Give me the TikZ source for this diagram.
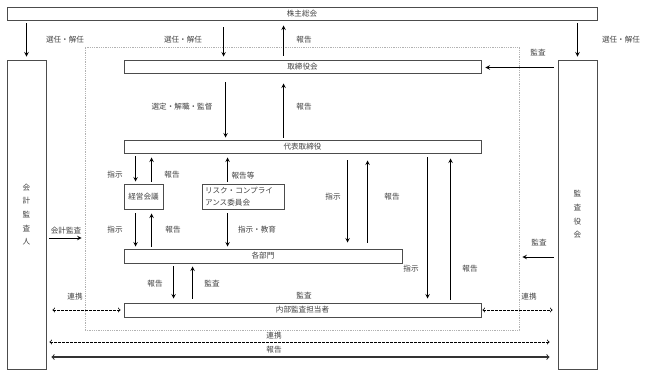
\documentclass[tikz,border=0pt]{standalone}
\usepackage{fontspec}
\setmainfont{Noto Sans CJK JP}
\usetikzlibrary{calc}

\begin{document}
\begin{tikzpicture}[>=stealth, x=1pt, y=-1pt]

  % Styles for boxes, labels and connectors
  \tikzset{
    box/.style={draw=black!70, line width=0.9pt, inner sep=0pt,
      font=\fontsize{7.6}{9}\selectfont, text=black!75},
    lbl/.style={inner sep=0pt, font=\fontsize{7.6}{9}\selectfont, text=black!75},
    arr/.style={->, line width=1pt},
    link/.style={<->, >=to, line width=0.8pt, dash pattern=on 2.5pt off 1.5pt},
    both/.style={<->, >=to, line width=1.1pt, black!80}
  }

  \useasboundingbox (0,0) rectangle (648,376);

  % 1. Company frame (dotted)
  \node[draw=gray!60, line width=0.8pt, dash pattern=on 1pt off 0.8pt,
    minimum width=434pt, minimum height=283pt, inner sep=0pt] (frame) at (302,188.5) {};

  % 2. Boxes
  \node[box, minimum width=590pt, minimum height=13pt] (kabu) at (302,13.5) {株主総会};
  \node[box, minimum width=39pt, minimum height=309pt, align=center,
    font=\fontsize{7.6}{13.7}\selectfont] (kaikei) at (26.5,214.5) {会\\計\\監\\査\\人};
  \node[box, minimum width=39pt, minimum height=309pt, align=center,
    font=\fontsize{7.6}{13.7}\selectfont] (kansa) at (577.5,214.5) {監\\査\\役\\会};
  \node[box, minimum width=357pt, minimum height=13pt] (torishimari) at (302.5,66.5) {取締役会};
  \node[box, minimum width=357pt, minimum height=13pt] (daihyo) at (302.5,146.5) {代表取締役};
  \node[box, minimum width=39pt, minimum height=25pt] (keiei) at (143.5,196.5) {経営会議};
  \node[box, minimum height=25pt, text width=76pt, inner xsep=3pt, align=left,
    font=\fontsize{7.6}{12}\selectfont] (risk) at (243,196.5) {リスク・コンプライ\\アンス委員会};
  \node[box, minimum width=278pt, minimum height=14pt] (bumon) at (263,256) {各部門};
  \node[box, minimum width=357pt, minimum height=14pt] (naibu) at (302.5,310) {内部監査担当者};

  % --- ARROWS ---
  % Shareholders meeting
  \draw[arr, shorten <=3pt, shorten >=3pt] (kaikei.north |- kabu.south) -- (kaikei.north);
  \draw[arr, shorten <=3pt, shorten >=3pt] (kansa.north |- kabu.south) -- (kansa.north);
  \draw[arr, shorten <=7pt, shorten >=3pt]
    ($(torishimari.north west |- kabu.south)+(100,0)$) -- ($(torishimari.north west)+(100,0)$);
  \draw[arr, shorten <=4pt, shorten >=5pt]
    ($(torishimari.north west)+(160,0)$) -- ($(torishimari.north west |- kabu.south)+(160,0)$);
  \draw[arr, shorten <=4pt, shorten >=4pt]
    ($(kansa.west |- torishimari.east)+(0,1)$) -- ($(torishimari.east)+(0,1)$);

  % Board and representative director
  \draw[arr, shorten <=9pt, shorten >=2pt]
    ($(torishimari.south west)+(102,0)$) -- ($(daihyo.north west)+(102,0)$);
  \draw[arr, shorten <=2pt, shorten >=10pt]
    ($(daihyo.north west)+(160,0)$) -- ($(torishimari.south west)+(160,0)$);

  % Management meeting and committee
  \draw[arr, shorten <=3pt, shorten >=2pt]
    ($(daihyo.south west)+(12,0)$) -- ($(keiei.north west)+(12,0)$);
  \draw[arr, shorten <=2pt, shorten >=4pt]
    ($(keiei.north west)+(28,0)$) -- ($(daihyo.south west)+(28,0)$);
  \draw[arr, shorten <=2pt, shorten >=4pt]
    ($(risk.north west)+(26,0)$) -- ($(daihyo.south west)+(104,0)$);
  \draw[arr, shorten <=4pt, shorten >=2pt]
    ($(keiei.south west)+(12,0)$) -- ($(bumon.north west)+(12,0)$);
  \draw[arr, shorten <=2pt, shorten >=4pt]
    ($(bumon.north west)+(28,0)$) -- ($(keiei.south west)+(28,0)$);
  \draw[arr, shorten <=4pt, shorten >=2pt]
    ($(risk.south west)+(26,0)$) -- ($(bumon.north west)+(104,0)$);

  % Representative director, departments and internal audit
  \draw[arr, shorten <=7pt, shorten >=6pt]
    ($(daihyo.south west)+(224,0)$) -- ($(bumon.north west)+(224,0)$);
  \draw[arr, shorten <=6pt, shorten >=7pt]
    ($(bumon.north west)+(244,0)$) -- ($(daihyo.south west)+(244,0)$);
  \draw[arr, shorten <=4pt, shorten >=4pt]
    ($(daihyo.south west)+(304,0)$) -- ($(naibu.north west)+(304,0)$);
  \draw[arr, shorten <=3pt, shorten >=5pt]
    ($(naibu.north west)+(327,0)$) -- ($(daihyo.south west)+(327,0)$);
  \draw[arr, shorten <=3pt, shorten >=4pt]
    ($(bumon.south west)+(50,0)$) -- ($(naibu.north west)+(50,0)$);
  \draw[arr, shorten <=4pt, shorten >=3pt]
    ($(naibu.north west)+(69,0)$) -- ($(bumon.south west)+(69,0)$);

  % Auditors
  \draw[arr, shorten <=3pt, shorten >=3pt]
    ($(kaikei.east)+(0,23.5)$) -- ($(frame.west)+(0,49.5)$);
  \draw[arr, shorten <=4pt, shorten >=3pt]
    ($(kansa.west)+(0,42.5)$) -- ($(frame.east)+(0,68.5)$);

  % Cooperation and reports
  \draw[link, shorten <=6pt, shorten >=3pt] (kaikei.east |- naibu.west) -- (naibu.west);
  \draw[link, shorten <=1pt, shorten >=5pt] (naibu.east) -- (kansa.west |- naibu.east);
  \draw[link, shorten <=3pt, shorten >=8pt]
    ($(kaikei.east)+(0,127.5)$) -- ($(kansa.west)+(0,127.5)$);
  \draw[both, shorten <=5pt, shorten >=8pt]
    ($(kaikei.east)+(0,142.5)$) -- ($(kansa.west)+(0,142.5)$);

  % --- LABELS ---
  \node[lbl] (s1) at (65,40) {選任・解任};
  \node[lbl] (s2) at (183,40) {選任・解任};
  \node[lbl] (s3) at (621,40) {選任・解任};
  \node[lbl] (r1) at (304,40) {報告};
  \node[lbl] (k1) at (538,53) {監査};
  \node[lbl] (sk) at (182,107) {選定・解職・監督};
  \node[lbl] (r2) at (304,107) {報告};
  \node[lbl] (i1) at (115,175) {指示};
  \node[lbl] (r3) at (172,175) {報告};
  \node[lbl] (r4) at (243,176) {報告等};
  \node[lbl] (i2) at (115,230) {指示};
  \node[lbl] (r5) at (173,230) {報告};
  \node[lbl] (ik) at (257,230) {指示・教育};
  \node[lbl] (i3) at (333,197) {指示};
  \node[lbl] (r6) at (392,197) {報告};
  \node[lbl] (i4) at (411,269) {指示};
  \node[lbl] (r7) at (470,269) {報告};
  \node[lbl] (ka) at (66,231) {会計監査};
  \node[lbl] (k2) at (539,243) {監査};
  \node[lbl] (r8) at (155,284) {報告};
  \node[lbl] (k3) at (212,284) {監査};
  \node[lbl] (k4) at (304,296) {監査};
  \node[lbl] (c1) at (75,297) {連携};
  \node[lbl] (c2) at (529,297) {連携};
  \node[lbl] (c3) at (274,336) {連携};
  \node[lbl] (r9) at (274,350) {報告};

\end{tikzpicture}
\end{document}
